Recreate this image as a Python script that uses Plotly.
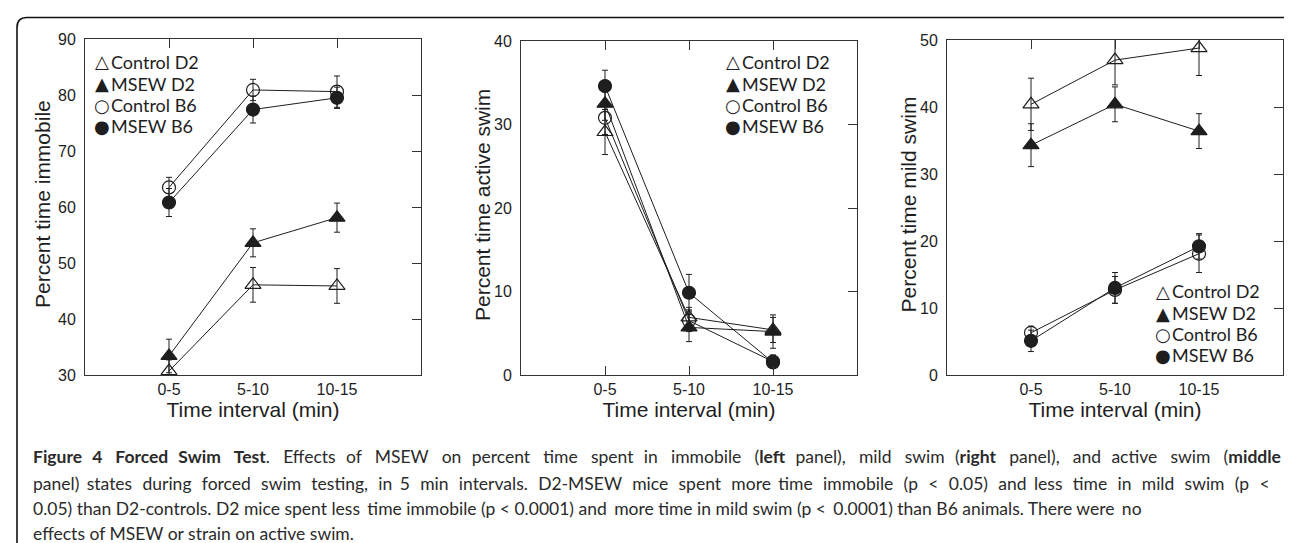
import plotly.graph_objects as go

W, H = 1292, 543

intervals = ["0-5", "5-10", "10-15"]
xpos = [1, 2, 3]
groups = ["Control D2", "MSEW D2", "Control B6", "MSEW B6"]
legend_glyphs = ["\u25B3", "\u25B2", "\u25CB", "\u25CF"]

# Percent time immobile (left panel)
immobile_mean = {
    "Control D2": [30.7, 46.1, 45.9],
    "MSEW D2": [33.4, 53.6, 58.1],
    "Control B6": [63.5, 80.9, 80.6],
    "MSEW B6": [60.8, 77.4, 79.5],
}
immobile_err = {
    "Control D2": [2.0, 3.1, 3.1],
    "MSEW D2": [3.0, 2.5, 2.6],
    "Control B6": [1.8, 1.9, 2.8],
    "MSEW B6": [2.5, 2.4, 1.9],
}
# Percent time active swim (middle panel)
active_mean = {
    "Control D2": [29.1, 6.9, 5.4],
    "MSEW D2": [32.5, 5.7, 5.2],
    "Control B6": [30.8, 6.5, 1.6],
    "MSEW B6": [34.6, 9.85, 1.5],
}
active_err = {
    "Control D2": [2.7, 1.2, 1.5],
    "MSEW D2": [2.0, 1.7, 2.0],
    "Control B6": [2.0, 1.3, 0.8],
    "MSEW B6": [1.9, 2.2, 0.6],
}
# Percent time mild swim (right panel)
mild_mean = {
    "Control D2": [40.4, 47.0, 48.8],
    "MSEW D2": [34.3, 40.4, 36.4],
    "Control B6": [6.3, 12.7, 18.1],
    "MSEW B6": [5.1, 13.0, 19.2],
}
mild_err = {
    "Control D2": [3.9, 3.7, 4.1],
    "MSEW D2": [3.2, 2.6, 2.6],
    "Control B6": [1.0, 2.0, 2.8],
    "MSEW B6": [1.6, 2.3, 1.9],
}

y_titles = ["Percent time immobile", "Percent time active swim", "Percent time mild swim"]
y_ranges = [[30, 90], [0, 40], [0, 50]]
x_title = "Time interval (min)"

caption_lines = [
    "<b>Figure 4 Forced Swim Test</b>. Effects of MSEW on percent time spent in immobile (<b>left</b> panel), mild swim (<b>right</b> panel), and active swim (<b>middle</b>",
    "panel) states during forced swim testing, in 5 min intervals. D2-MSEW mice spent more time immobile (p &lt; 0.05) and less time in mild swim (p &lt;",
    "0.05) than D2-controls. D2 mice spent less time immobile (p &lt; 0.0001) and more time in mild swim (p &lt; 0.0001) than B6 animals. There were no",
    "effects of MSEW or strain on active swim.",
]
# extra word spacing (in 1/6-em units) to mimic the justified caption
caption_extra_units = [61, 48, 4, 0]

symbols = {
    "Control D2": "triangle-up-open",
    "MSEW D2": "triangle-up",
    "Control B6": "circle-open",
    "MSEW B6": "circle",
}
sizes = {"Control D2": 14, "MSEW D2": 14, "Control B6": 13, "MSEW B6": 13}

INK = "#1e1e1e"
AXC = "#333333"
AX_FONT = "Liberation Sans, Arial, sans-serif"
TXT_FONT = "Lato, Open Sans, sans-serif"


def px(x):
    return x / W


def py(y):
    return 1 - y / H


def justify(line, units):
    words = line.split(" ")
    gaps = len(words) - 1
    out = words[0]
    for j in range(gaps):
        u = (j + 1) * units // gaps - j * units // gaps
        out += " " + "\u2006" * u + words[j + 1]
    return out


# panel geometry (pixels)
panels = [
    dict(x0=77, x1=413, y0=31, y1=367, mean=immobile_mean, err=immobile_err,
         clip=False, bottom_ticks=False, leg_x=(94, 102), leg_y=[54, 76, 97, 118], title_x=35),
    dict(x0=513, x1=849, y0=33, y1=367, mean=active_mean, err=active_err,
         clip=True, bottom_ticks=True, leg_x=(725, 733), leg_y=[54, 76, 97, 118], title_x=474),
    dict(x0=939, x1=1275, y0=32, y1=367, mean=mild_mean, err=mild_err,
         clip=True, bottom_ticks=False, leg_x=(1155, 1163), leg_y=[283, 305, 326, 347], title_x=900),
]

fig = go.Figure()
layout = {}
annotations = []

for i, p in enumerate(panels):
    n = i + 1
    xs = "" if n == 1 else str(n)
    o = str(n + 3)
    for g in groups:
        fig.add_trace(go.Scatter(
            x=xpos, y=p["mean"][g], mode="lines+markers", name=g,
            xaxis="x" + xs, yaxis="y" + xs, showlegend=False,
            cliponaxis=p["clip"],
            line=dict(color=INK, width=1),
            marker=dict(symbol=symbols[g], size=sizes[g], color=INK,
                        line=dict(color=INK, width=1.2)),
            error_y=dict(type="data", array=p["err"][g], color=INK, thickness=1, width=3),
        ))
    # empty trace that makes the overlay (top/right tick) axes render
    fig.add_trace(go.Scatter(x=[], y=[], xaxis="x" + o, yaxis="y" + o,
                             showlegend=False, hoverinfo="skip"))
    dom_x = [px(p["x0"]), px(p["x1"])]
    dom_y = [py(p["y1"]), py(p["y0"])]
    layout["xaxis" + xs] = dict(
        domain=dom_x, range=[0, 4], tickvals=xpos, ticktext=intervals,
        anchor="y" + xs, showline=True, mirror=True, linecolor=AXC, linewidth=1,
        showgrid=False, zeroline=False,
        ticks="inside" if p["bottom_ticks"] else "", ticklen=9, tickcolor=AXC,
        tickfont=dict(family=AX_FONT, size=16, color=INK),
        ticklabelstandoff=0,
        title=dict(text=x_title, font=dict(family=AX_FONT, size=21, color=INK), standoff=1),
        automargin=False, fixedrange=True,
    )
    layout["yaxis" + xs] = dict(
        domain=dom_y, range=y_ranges[i], dtick=10, anchor="x" + xs,
        showline=True, mirror=True, linecolor=AXC, linewidth=1,
        showgrid=False, zeroline=False, ticks="",
        tickfont=dict(family=AX_FONT, size=16, color=INK),
        ticklabelstandoff=5,
        automargin=False, fixedrange=True,
    )
    # overlay axes carrying the top and right inward ticks
    layout["xaxis" + o] = dict(
        overlaying="x" + xs, anchor="y" + o, side="top", range=[0, 4], tickvals=xpos,
        ticks="inside", ticklen=9, tickcolor=AXC, showticklabels=False,
        showgrid=False, zeroline=False, showline=False, fixedrange=True,
    )
    layout["yaxis" + o] = dict(
        overlaying="y" + xs, anchor="x" + o, side="right", range=y_ranges[i], dtick=10,
        ticks="inside", ticklen=9, tickcolor=AXC, showticklabels=False,
        showgrid=False, zeroline=False, showline=False, fixedrange=True,
    )
    # y title
    annotations.append(dict(
        text=y_titles[i], x=px(p["title_x"]), y=py((p["y0"] + p["y1"]) / 2 - 3),
        xref="paper", yref="paper", textangle=-90, showarrow=False,
        xanchor="center", yanchor="middle",
        font=dict(family=AX_FONT, size=21, color=INK),
    ))
    # legend (text with symbol glyphs)
    for k, g in enumerate(groups):
        annotations.append(dict(
            text=legend_glyphs[k], x=px(p["leg_x"][0]), y=py(p["leg_y"][k]),
            xref="paper", yref="paper", showarrow=False, xanchor="center", yanchor="middle",
            font=dict(family="DejaVu Sans", size=18, color=INK), borderpad=0,
        ))
        annotations.append(dict(
            text=g, x=px(p["leg_x"][1]), y=py(p["leg_y"][k]),
            xref="paper", yref="paper", showarrow=False, xanchor="left", yanchor="middle",
            font=dict(family=TXT_FONT, size=18, color=INK), borderpad=0,
        ))

cap_y = [448, 475, 500, 525]
for k, line in enumerate(caption_lines):
    annotations.append(dict(
        text=justify(line, caption_extra_units[k]), x=px(23), y=py(cap_y[k]),
        xref="paper", yref="paper",
        showarrow=False, xanchor="left", yanchor="middle",
        font=dict(family=TXT_FONT, size=17.5, color="#2a2a2a"),
    ))

# rounded frame around the figure
x0, x1 = px(9), px(1290)
yt, yb = py(9.5), -0.05
rx, ry = 10 / W, 10 / H
frame = (f"M {x0},{yb} L {x0},{yt - ry} Q {x0},{yt} {x0 + rx},{yt} "
         f"L {x1 - rx},{yt} Q {x1},{yt} {x1},{yt - ry} L {x1},{yb}")

fig.update_layout(
    width=W, height=H, margin=dict(l=0, r=0, t=0, b=0),
    paper_bgcolor="white", plot_bgcolor="white",
    showlegend=False, annotations=annotations,
    shapes=[dict(type="path", path=frame, xref="paper", yref="paper",
                 line=dict(color="#111111", width=1.6))],
    **layout,
)

fig.write_html("out.html")
